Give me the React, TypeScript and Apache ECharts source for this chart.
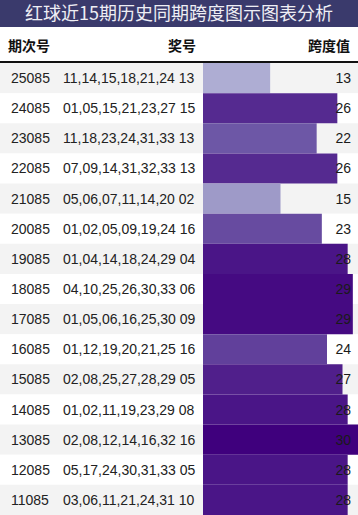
import React, { useEffect, useRef } from "react";
import * as echarts from "echarts";

const periods = ["25085", "24085", "23085", "22085", "21085", "20085", "19085", "18085", "17085", "16085", "15085", "14085", "13085", "12085", "11085"];
const redBalls = [
  "11,14,15,18,21,24",
  "01,05,15,21,23,27",
  "11,18,23,24,31,33",
  "07,09,14,31,32,33",
  "05,06,07,11,14,20",
  "01,02,05,09,19,24",
  "01,04,14,18,24,29",
  "04,10,25,26,30,33",
  "01,05,06,16,25,30",
  "01,12,19,20,21,25",
  "02,08,25,27,28,29",
  "01,02,11,19,23,29",
  "02,08,12,14,16,32",
  "05,17,24,30,31,33",
  "03,06,11,21,24,31",
];
const blueBalls = ["13", "15", "13", "13", "02", "16", "04", "06", "09", "16", "05", "08", "16", "05", "10"];
const spans = [13, 26, 22, 26, 15, 23, 28, 29, 29, 24, 27, 28, 30, 28, 28];

const titleText = "红球近15期历史同期跨度图示图表分析";
const headers = ["期次号", "奖号", "跨度值"];

const purples = ["#fcfbfd", "#efedf5", "#dadaeb", "#bcbddc", "#9e9ac8", "#807dba", "#6a51a3", "#54278f", "#3f007d"];
const SPAN_MAX = 30;

export default function App() {
  const ref = useRef<HTMLDivElement>(null);
  useEffect(() => {
    if (!ref.current) return;
    const chart = echarts.init(ref.current, null, { renderer: "svg" });
    const font = "'Liberation Sans', Arial, sans-serif";
    const cjk = "'Noto Sans CJK SC', sans-serif";
    const top = 63;
    chart.setOption({
      animation: false,
      backgroundColor: "#ffffff",
      grid: [
        { left: 0, right: 0, top, bottom: 0 },
        { left: 203, right: 0, top, bottom: 0 },
      ],
      xAxis: [
        { type: "value", gridIndex: 0, min: 0, max: 1, show: false },
        { type: "value", gridIndex: 1, min: 0, max: SPAN_MAX, show: false },
      ],
      yAxis: [
        {
          type: "category",
          gridIndex: 0,
          inverse: true,
          data: periods,
          axisLine: { show: false },
          axisTick: { show: false },
          splitLine: { show: false },
          splitArea: { show: true, areaStyle: { color: ["#f3f3f3", "#ffffff"] } },
          axisLabel: {
            inside: true,
            margin: 11,
            formatter: (v: string, i: number) => `{a|${v}}{b|${redBalls[i]} ${blueBalls[i]}}`,
            rich: {
              a: { width: 52, fontSize: 14, fontFamily: font, color: "#222" },
              b: { fontSize: 14, fontFamily: font, color: "#222" },
            },
          },
        },
        {
          type: "category",
          gridIndex: 1,
          inverse: true,
          data: periods,
          show: false,
        },
        {
          type: "category",
          gridIndex: 1,
          inverse: true,
          position: "right",
          data: spans.map(String),
          z: 10,
          axisLine: { show: false },
          axisTick: { show: false },
          splitLine: { show: false },
          axisLabel: { inside: true, margin: 7, fontSize: 14, fontFamily: font, color: "#1a1a1a" },
        },
      ],
      series: [
        {
          type: "bar",
          xAxisIndex: 1,
          yAxisIndex: 1,
          barWidth: "100%",
          data: spans.map((v) => ({
            value: v,
            itemStyle: { color: echarts.color.lerp(v / SPAN_MAX, purples) },
          })),
        },
      ],
      graphic: [
        { type: "rect", left: 0, top: 0, shape: { width: 358, height: 27 }, style: { fill: "#3a3a6c" } },
        {
          type: "text",
          left: "center",
          top: 3,
          style: { text: titleText, fontSize: 18, fontFamily: cjk, fill: "#eeeef4" },
        },
        { type: "text", left: 8, top: 38, style: { text: headers[0], fontSize: 14, fontWeight: "bold", fontFamily: cjk, fill: "#111" } },
        { type: "text", right: 162, top: 38, style: { text: headers[1], fontSize: 14, fontWeight: "bold", fontFamily: cjk, fill: "#111" } },
        { type: "text", right: 8, top: 38, style: { text: headers[2], fontSize: 14, fontWeight: "bold", fontFamily: cjk, fill: "#111" } },
        { type: "rect", left: 0, top: 61, shape: { width: 358, height: 2 }, style: { fill: "#111" } },
      ],
    });
    return () => chart.dispose();
  }, []);
  return <div ref={ref} style={{ position: "fixed", left: 0, top: 0, width: 358, height: 515 }} />;
}
